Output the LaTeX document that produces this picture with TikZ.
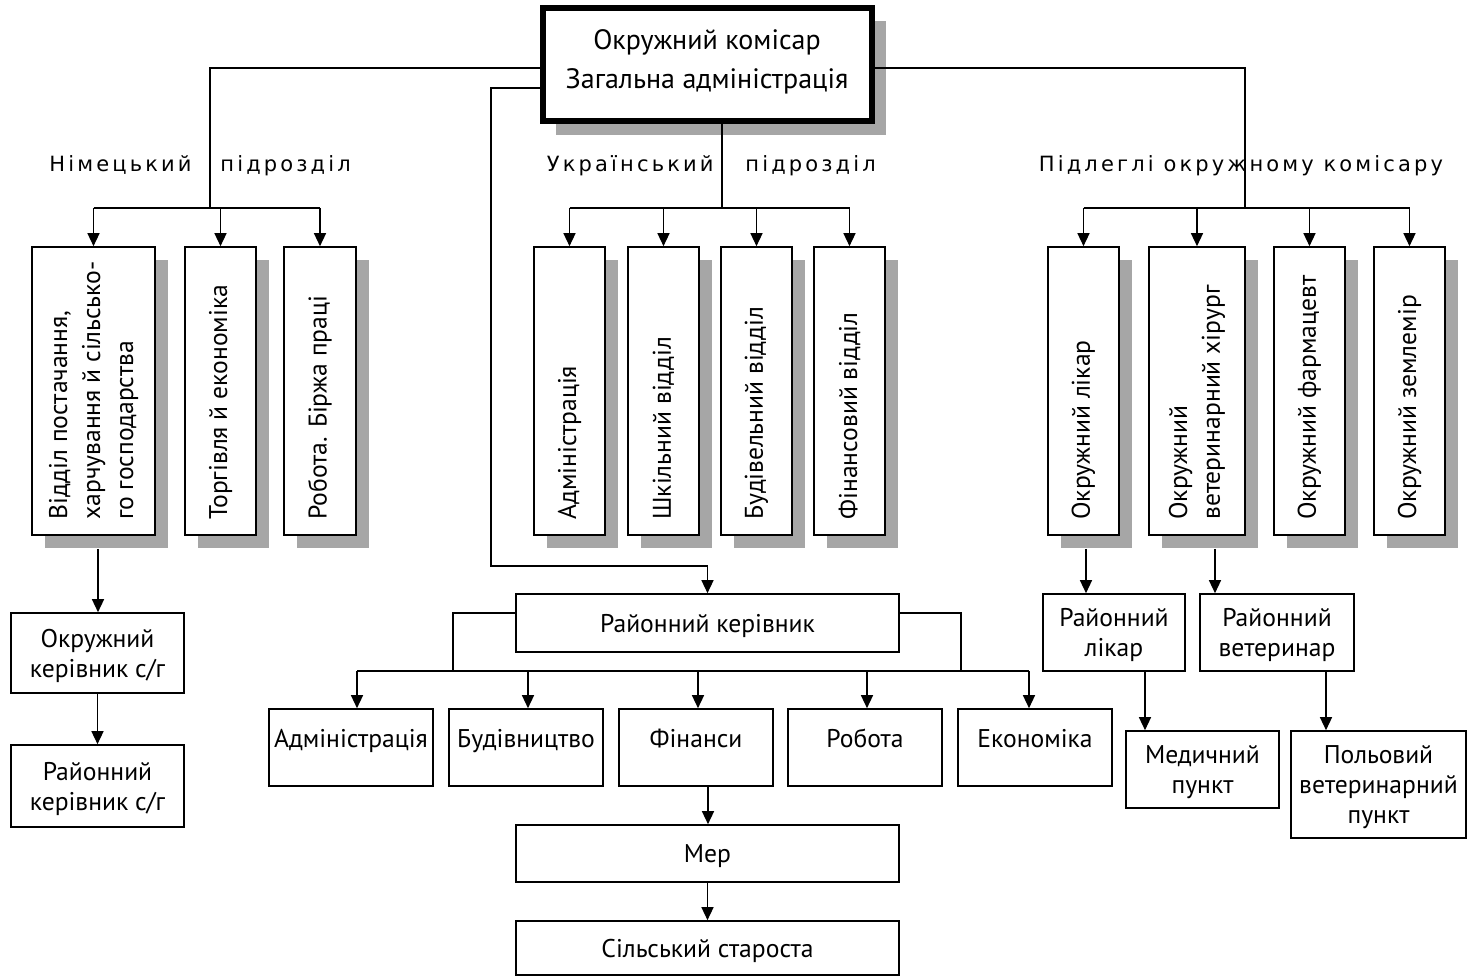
\documentclass[tikz,border=0pt]{standalone}
\usepackage{fontspec}
\setmainfont{PT Sans}
\newfontfamily\hdrfont[LetterSpace=15]{DejaVu Sans}
\usetikzlibrary{arrows.meta,fit,shadows,calc}
\definecolor{shd}{HTML}{A6A6A6}
\begin{document}
\begin{tikzpicture}[x=0.5pt,y=-0.5pt,
  font=\fontsize{12.8}{15}\selectfont,
  box/.style={draw, line width=0.8pt, fill=white, inner sep=0pt, align=center, text depth=0pt},
  sz/.style 2 args={minimum width=#1*0.5pt, minimum height=#2*0.5pt},
  sbox/.style={box, drop shadow={shadow xshift=6.5pt, shadow yshift=-6.5pt, fill=shd, opacity=1}},
  vtxt/.style={rotate=90, anchor=west, align=left, inner sep=0pt, font=\fontsize{12.8}{16.5}\selectfont},
  txt/.style={align=center, inner sep=0pt},
  ln/.style={line width=0.7pt},
  arr/.style={ln, -{Triangle[width=6pt,length=6.5pt]}},
  hdr/.style={font=\hdrfont\fontsize{10.5}{12}\selectfont, inner sep=0pt}]
\useasboundingbox (0,0) rectangle (1469,977);

% ---------- top box ----------
\node[box, sz={330}{114}, line width=2.5pt,
      drop shadow={shadow xshift=6.75pt, shadow yshift=-6.75pt, fill=shd, opacity=1}] (top) at (707.5,64.5) {};
\draw[line width=0.5pt] ([shift={(2.9pt,-2.9pt)}]top.north west) rectangle ([shift={(-2.9pt,2.9pt)}]top.south east);
\node[txt, font=\fontsize{14}{19.5}\selectfont] (toptxt) at (707,62) {Окружний комісар\\Загальна адміністрація};

% ---------- headers ----------
\node[hdr, anchor=base east] (hG1) at (192,172) {Німецький};
\node[hdr, anchor=base west] (hG2) at (220,172) {підрозділ};
\node[hdr, anchor=base east] (hU1) at (714,172) {Український};
\node[hdr, anchor=base west] (hU2) at (745,172) {підрозділ};
\node[hdr, anchor=base] (hR) at (1241,172) {Підлеглі окружному комісару};

% ---------- German column ----------
\node[sbox, fit={(32,247) (155,535)}] (g1) {};
\node[sbox, fit={(185,247) (256,535)}] (g2) {};
\node[sbox, fit={(284,247) (356,535)}] (g3) {};
\node[vtxt] (g1t) at (93.5,520) {Відділ постачання,\\харчування й сільсько-\\го господарства};
\node[vtxt] (g2t) at (220.5,520) {Торгівля й економіка};
\node[vtxt] (g3t) at (320,520) {Робота. Біржа праці};

\node[box, sz={173}{80}] (okk) at (97.5,653) {Окружний\\керівник с/г};
\node[box, sz={173}{82}] (rkk) at (97.5,786) {Районний\\керівник с/г};

% ---------- Ukrainian column ----------
\node[sbox, fit={(534,247) (605,535)}] (u1) {};
\node[sbox, fit={(628,247) (699,535)}] (u2) {};
\node[sbox, fit={(721,247) (792,535)}] (u3) {};
\node[sbox, fit={(814,247) (885,535)}] (u4) {};
\node[vtxt] (u1t) at (569.5,520) {Адміністрація};
\node[vtxt] (u2t) at (663.5,520) {Шкільний відділ};
\node[vtxt] (u3t) at (756.5,520) {Будівельний відділ};
\node[vtxt] (u4t) at (849.5,520) {Фінансовий відділ};

% ---------- right column ----------
\node[sbox, fit={(1048,247) (1119,535)}] (r1) {};
\node[sbox, fit={(1149,247) (1245,535)}] (r2) {};
\node[sbox, fit={(1274,247) (1345,535)}] (r3) {};
\node[sbox, fit={(1374,247) (1445,535)}] (r4) {};
\node[vtxt] (r1t) at (1083.5,520) {Окружний лікар};
\node[vtxt] (r2t) at (1197,520) {Окружний\\ветеринарний хірург};
\node[vtxt] (r3t) at (1309.5,520) {Окружний фармацевт};
\node[vtxt] (r4t) at (1409.5,520) {Окружний землемір};

\node[box, sz={142}{77}] (rl) at (1114,632.5) {Районний\\лікар};
\node[box, sz={154}{77}] (rv) at (1277,632.5) {Районний\\ветеринар};
\node[box, sz={153}{77}] (mp) at (1202.5,769.5) {Медичний\\пункт};
\node[box, sz={175}{107}] (pvp) at (1378.5,784.5) {Польовий\\ветеринарний\\пункт};

% ---------- middle ----------
\node[box, sz={383}{58}] (rk) at (707.5,623) {Районний керівник};
\node[box, sz={164}{77}] (adm) at (351,747.5) {};
\node[box, sz={154}{77}] (bud) at (526,747.5) {};
\node[box, sz={154}{77}] (fin) at (696,747.5) {};
\node[box, sz={154}{77}] (rob) at (865,747.5) {};
\node[box, sz={154}{77}] (eko) at (1035,747.5) {};
\node[txt, anchor=base] (admt) at (351,748) {Адміністрація};
\node[txt, anchor=base] (budt) at (526,748) {Будівництво};
\node[txt, anchor=base] (fint) at (696,748) {Фінанси};
\node[txt, anchor=base] (robt) at (865,748) {Робота};
\node[txt, anchor=base] (ekot) at (1035,748) {Економіка};
\node[box, sz={383}{57}] (mer) at (707.5,853.5) {Мер};
\node[box, sz={383}{54}] (sil) at (707.5,948) {Сільський староста};

% ---------- connectors ----------
% German
\coordinate (jL) at (210,68);
\coordinate (gL) at (210,208);
\draw[ln] (top.west |- jL) -- (jL) -- (gL);
\draw[ln] (g1.north |- gL) -- (g3.north |- gL);
\draw[arr] (g1.north |- gL) -- (g1.north);
\draw[arr] (g2.north |- gL) -- (g2.north);
\draw[arr] (g3.north |- gL) -- (g3.north);
\draw[arr] ([xshift=2.25pt,yshift=-6.5pt]g1.south) -- ([xshift=2.25pt]g1.south |- okk.north);
\draw[arr] (okk.south) -- (rkk.north);

% Ukrainian
\coordinate (gU) at (722,208);
\draw[ln] (top.south -| gU) -- (gU);
\draw[ln] (u1.north |- gU) -- (u4.north |- gU);
\draw[arr] (u1.north |- gU) -- (u1.north);
\draw[arr] (u2.north |- gU) -- (u2.north);
\draw[arr] (u3.north |- gU) -- (u3.north);
\draw[arr] (u4.north |- gU) -- (u4.north);

% Right
\coordinate (jR) at (1245,68);
\coordinate (gR) at (1245,208);
\draw[ln] (top.east |- jR) -- (jR) -- (gR);
\draw[ln] (r1.north |- gR) -- (r4.north |- gR);
\draw[arr] (r1.north |- gR) -- (r1.north);
\draw[arr] (r2.north |- gR) -- (r2.north);
\draw[arr] (r3.north |- gR) -- (r3.north);
\draw[arr] (r4.north |- gR) -- (r4.north);
\draw[arr] ([xshift=1.25pt,yshift=-6.5pt]r1.south) -- ([xshift=1.25pt]r1.south |- rl.north);
\draw[arr] ([xshift=9pt,yshift=-6.5pt]r2.south) -- ([xshift=9pt]r2.south |- rv.north);
\draw[arr] ([xshift=15.5pt]rl.south) -- ([xshift=15.5pt]rl.south |- mp.north);
\draw[arr] ([xshift=24.5pt]rv.south) -- ([xshift=24.5pt]rv.south |- pvp.north);

% Middle
\coordinate (jM) at (491,88);
\coordinate (jM2) at (491,566);
\draw[arr] (top.west |- jM) -- (jM) -- (jM2) -| (rk.north);
\coordinate (bL) at (453,671);
\coordinate (bR) at (961,671);
\draw[ln] ([yshift=5pt]rk.west) -| (bL);
\draw[ln] ([yshift=5pt]rk.east) -| (bR);
\coordinate (a1) at (357,671);
\coordinate (a2) at (528,671);
\coordinate (a3) at (698,671);
\coordinate (a4) at (867,671);
\coordinate (a5) at (1029,671);
\draw[ln] (a1) -- (a5);
\draw[arr] (a1) -- (a1 |- adm.north);
\draw[arr] (a2) -- (a2 |- bud.north);
\draw[arr] (a3) -- (a3 |- fin.north);
\draw[arr] (a4) -- (a4 |- rob.north);
\draw[arr] (a5) -- (a5 |- eko.north);
\draw[arr] ([xshift=6pt]fin.south) -- ([xshift=6pt]fin.south |- mer.north);
\draw[arr] (mer.south) -- (sil.north);
\end{tikzpicture}
\end{document}
